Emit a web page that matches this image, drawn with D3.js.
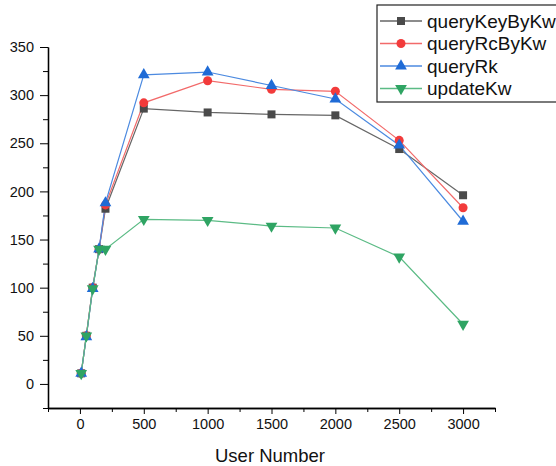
<!DOCTYPE html>
<html>
<head>
<meta charset="utf-8">
<script src="https://cdn.jsdelivr.net/npm/d3@7"></script>
<style>
  body { margin: 0; background: #fff; }
  svg { display: block; font-family: "Liberation Sans", Arial, sans-serif; }
</style>
</head>
<body>
<svg id="chart" width="556" height="466"></svg>
<script>
// user counts on the x axis
const userNumbers = [10, 50, 100, 150, 200, 500, 1000, 1500, 2000, 2500, 3000];

const queryKeyByKw = [11, 50, 100, 140, 182, 286, 282, 280, 279, 244, 196];
const queryRcByKw  = [11, 50, 100, 140, 186, 292, 315, 306, 304, 253, 183];
const queryRk      = [11, 49, 99, 140, 188, 321, 324, 310, 296, 248, 169];
const updateKw     = [11, 50, 99, 140, 140, 171, 170, 164, 162, 132, 62];

const seriesNames = ['queryKeyByKw', 'queryRcByKw', 'queryRk', 'updateKw'];
const xTicks = [0, 500, 1000, 1500, 2000, 2500, 3000];
const yTicks = [0, 50, 100, 150, 200, 250, 300, 350];

const series = [
    { name: seriesNames[0], values: queryKeyByKw, color: '#4a4a4a', line: '#666', symbol: d3.symbolSquare, size: 64 },
    { name: seriesNames[1], values: queryRcByKw, color: '#f23b3b', line: '#f26a6a', symbol: d3.symbolCircle, size: 64 },
    { name: seriesNames[2], values: queryRk, color: '#1f6bd6', line: '#4c8ae0', symbol: d3.symbolTriangle, size: 60 },
    { name: seriesNames[3], values: updateKw, color: '#2fa463', line: '#5bbb85', symbol: d3.symbolTriangle, size: 60, flip: true }
];

const svg = d3.select('#chart');
const margin = { left: 48, top: 47, bottom: 408, right: 495 };

const x = d3.scaleLinear().domain([-250, 3250]).range([margin.left, margin.right]);
const y = d3.scaleLinear().domain([-25, 350]).range([margin.bottom, margin.top]);

// x axis: minor ticks every 250, labels every 500
const gx = svg.append('g').attr('transform', `translate(0,${margin.bottom})`);
gx.call(d3.axisBottom(x).tickValues(d3.range(-250, 3251, 500)).tickSize(4).tickFormat('').tickSizeOuter(0));
gx.call(g => g.append('g').call(d3.axisBottom(x).tickValues(xTicks).tickSize(6).tickSizeOuter(0).tickPadding(5).tickFormat(d3.format('d'))));
gx.selectAll('.domain').attr('stroke', '#000').attr('stroke-width', 1.3);
gx.selectAll('text').attr('font-size', 14.5).attr('fill', '#111').attr('font-family', '"Liberation Sans", Arial, sans-serif');

// y axis
const gy = svg.append('g').attr('transform', `translate(${margin.left},0)`);
gy.call(d3.axisLeft(y).tickValues(d3.range(-25, 351, 50)).tickSize(5).tickFormat('').tickSizeOuter(0));
gy.call(g => g.append('g').call(d3.axisLeft(y).tickValues(yTicks).tickSize(8).tickSizeOuter(0).tickPadding(6)));
gy.selectAll('.domain').attr('stroke', '#000').attr('stroke-width', 1.3);
gy.selectAll('text').attr('font-size', 14.5).attr('fill', '#111').attr('font-family', '"Liberation Sans", Arial, sans-serif');

svg.append('text')
    .attr('x', 270).attr('y', 462)
    .attr('text-anchor', 'middle')
    .attr('font-size', 18.5)
    .attr('fill', '#111')
    .text('User Number');

const line = d3.line().x((d, i) => x(userNumbers[i])).y(d => y(d));

const plot = svg.append('g');
series.forEach(s => {
    plot.append('path')
        .attr('d', line(s.values))
        .attr('fill', 'none')
        .attr('stroke', s.line)
        .attr('stroke-width', 1.2);
});
series.forEach(s => {
    plot.selectAll(null)
        .data(s.values)
        .join('path')
        .attr('d', d3.symbol(s.symbol, s.size))
        .attr('fill', s.color)
        .attr('transform', (d, i) => `translate(${x(userNumbers[i])},${y(d)})${s.flip ? ' rotate(180)' : ''}`);
});

// legend
const legend = svg.append('g').attr('transform', 'translate(377,5)');
legend.append('rect')
    .attr('x', 0).attr('y', 0).attr('width', 190).attr('height', 97)
    .attr('fill', '#fff').attr('stroke', '#222').attr('stroke-width', 1.2);
series.forEach((s, i) => {
    const g = legend.append('g').attr('transform', `translate(0,${16 + i * 22.5})`);
    g.append('line').attr('x1', 3).attr('x2', 45).attr('stroke', s.line).attr('stroke-width', 1.5);
    g.append('path')
        .attr('d', d3.symbol(s.symbol, s.size))
        .attr('fill', s.color)
        .attr('transform', `translate(24,0)${s.flip ? ' rotate(180)' : ''}`);
    g.append('text')
        .attr('x', 50).attr('y', 6.5)
        .attr('font-size', 19)
        .attr('fill', '#111')
        .text(s.name);
});
</script>
</body>
</html>
